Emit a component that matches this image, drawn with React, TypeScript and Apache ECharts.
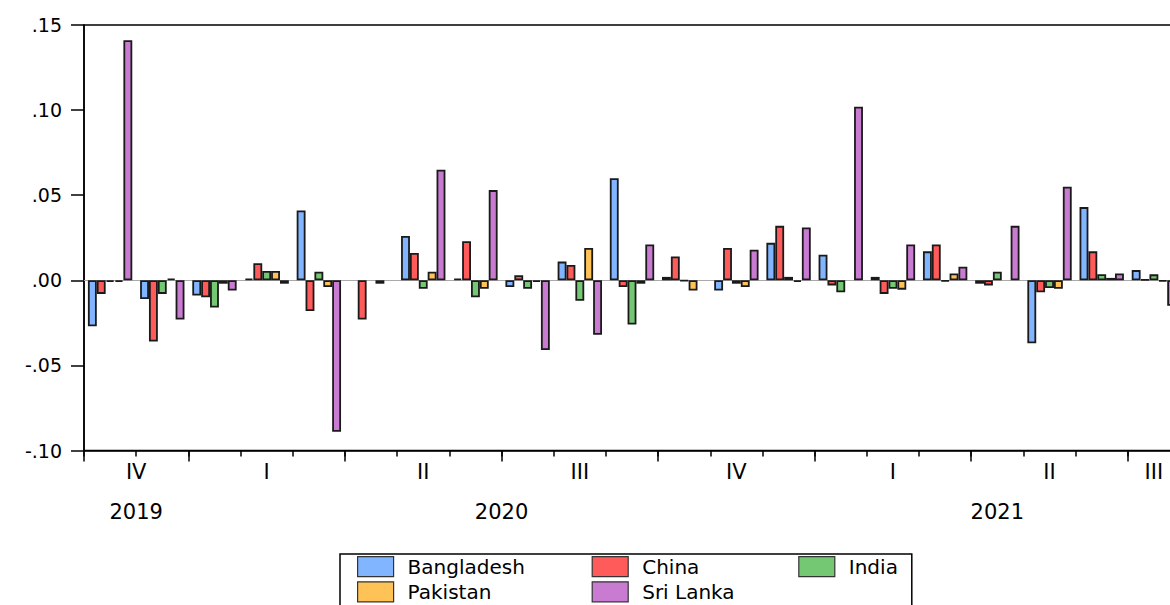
import React, { useEffect, useRef } from "react";
import * as echarts from "echarts";

// Monthly periods (Nov 2019 – Jul 2021)
const months = [
  "2019-11", "2019-12",
  "2020-01", "2020-02", "2020-03", "2020-04", "2020-05", "2020-06",
  "2020-07", "2020-08", "2020-09", "2020-10", "2020-11", "2020-12",
  "2021-01", "2021-02", "2021-03", "2021-04", "2021-05", "2021-06", "2021-07",
];

const seriesNames = ["Bangladesh", "China", "India", "Pakistan", "Sri Lanka"];

const bangladesh = [-0.027, -0.011, -0.009, 0.001, 0.041, null, 0.026, 0.001, -0.004, 0.011, 0.060, 0.002, -0.006, 0.022, 0.015, 0.002, 0.017, -0.002, -0.037, 0.043, 0.006];
const china = [-0.008, -0.036, -0.010, 0.010, -0.018, -0.023, 0.016, 0.023, 0.003, 0.009, -0.004, 0.014, 0.019, 0.032, -0.003, -0.008, 0.021, -0.003, -0.007, 0.017, 0.0004];
const india = [-0.001, -0.008, -0.016, 0.0055, 0.005, null, -0.005, -0.010, -0.005, -0.012, -0.026, -0.0004, -0.002, 0.002, -0.007, -0.005, -0.0006, 0.005, -0.0045, 0.0036, 0.0035];
const pakistan = [-0.001, 0.001, -0.002, 0.0055, -0.004, -0.002, 0.005, -0.005, -0.001, 0.019, -0.002, -0.006, -0.004, -0.001, null, -0.0055, 0.004, null, -0.005, 0.0014, -0.0007];
const sriLanka = [0.141, -0.023, -0.006, -0.002, -0.089, null, 0.065, 0.053, -0.041, -0.032, 0.021, null, 0.018, 0.031, 0.102, 0.021, 0.008, 0.032, 0.055, 0.004, -0.015];

const seriesValues = [bangladesh, china, india, pakistan, sriLanka];
const seriesColors = ["#82B5FF", "#FF5B5B", "#74C874", "#FFC257", "#C97BD1"];

const yTicks = [-0.1, -0.05, 0, 0.05, 0.1, 0.15];
const romans = ["I", "II", "III", "IV"];

const FONT = "DejaVu Sans";

function spans(keyOf: (m: string) => string) {
  const out: { key: string; start: number; end: number }[] = [];
  months.forEach((m, i) => {
    const k = keyOf(m);
    const last = out[out.length - 1];
    if (last && last.key === k) last.end = i + 1;
    else out.push({ key: k, start: i, end: i + 1 });
  });
  return out;
}

export default function App() {
  const ref = useRef<HTMLDivElement>(null);

  useEffect(() => {
    if (!ref.current) return;
    const chart = echarts.init(ref.current, undefined, { renderer: "svg" });
    const n = months.length;

    const quarterSpans = spans((m) => {
      const [y, mo] = m.split("-").map(Number);
      return `${y}-${Math.floor((mo - 1) / 3)}`;
    });
    const yearSpans = spans((m) => m.split("-")[0]);

    const qLabelMap: Record<string, string> = {};
    const qCenters = quarterSpans.map((s) => {
      const c = (s.start + s.end) / 2;
      qLabelMap[c.toFixed(3)] = romans[Number(s.key.split("-")[1])];
      return c;
    });
    const yLabelMap: Record<string, string> = {};
    const yCenters = yearSpans.map((s) => {
      const c = (s.start + s.end) / 2;
      yLabelMap[c.toFixed(3)] = s.key;
      return c;
    });
    const quarterBounds = quarterSpans.map((s) => s.start);
    const monthBounds = Array.from({ length: n + 1 }, (_, i) => i);

    const colKeys = ["c1", "c2", "c3"];
    const richBase = { fontFamily: FONT, fontSize: 20, color: "#000", lineHeight: 20, padding: [0, 0, 0, 9] };

    const valueAxisBase = {
      type: "value",
      gridIndex: 0,
      min: 0,
      max: n,
      position: "bottom",
      splitLine: { show: false },
    };

    chart.setOption({
      animation: false,
      backgroundColor: "#fff",
      grid: {
        left: 84,
        top: 25,
        width: 1096,
        height: 425.5,
        show: true,
        borderColor: "#000",
        borderWidth: 1.5,
        backgroundColor: "transparent",
        containLabel: false,
        outerBoundsMode: "none",
      },
      legend: {
        data: seriesNames,
        left: 340,
        top: 554,
        width: 600,
        orient: "horizontal",
        padding: [2, 5, 5, 17],
        itemWidth: 36,
        itemHeight: 20,
        itemGap: 4,
        icon: "rect",
        borderColor: "#000",
        borderWidth: 1.5,
        itemStyle: { borderColor: "#333", borderWidth: 1.2 },
        formatter: (name: string) => `{${colKeys[seriesNames.indexOf(name) % 3]}|${name}}`,
        textStyle: {
          fontFamily: FONT,
          fontSize: 20,
          color: "#000",
          rich: {
            c1: { ...richBase, width: 180 },
            c2: { ...richBase, width: 152 },
            c3: { ...richBase, width: 58 },
          },
        },
      },
      xAxis: [
        {
          type: "category",
          gridIndex: 0,
          data: months,
          axisLine: { show: true, onZero: true, lineStyle: { color: "#aaa", width: 1 } },
          axisTick: { show: false },
          axisLabel: { show: false },
          splitLine: { show: false },
        },
        {
          ...valueAxisBase,
          axisLine: { show: true, onZero: false, lineStyle: { color: "#000", width: 1.5 } },
          axisTick: { show: true, customValues: monthBounds, length: 6, inside: false, lineStyle: { color: "#000", width: 1.5 } },
          axisLabel: { show: false },
        },
        {
          ...valueAxisBase,
          axisLine: { show: false, onZero: false },
          axisTick: { show: true, customValues: quarterBounds, length: 11, inside: false, lineStyle: { color: "#000", width: 1.5 } },
          axisLabel: {
            show: true,
            customValues: qCenters,
            margin: 11,
            fontFamily: FONT,
            fontSize: 21,
            color: "#000",
            formatter: (v: number) => qLabelMap[v.toFixed(3)] ?? "",
          },
        },
        {
          ...valueAxisBase,
          axisLine: { show: false, onZero: false },
          axisTick: { show: false },
          axisLabel: {
            show: true,
            customValues: yCenters,
            margin: 51,
            fontFamily: FONT,
            fontSize: 21,
            color: "#000",
            formatter: (v: number) => yLabelMap[v.toFixed(3)] ?? "",
          },
        },
      ],
      yAxis: {
        type: "value",
        min: yTicks[0],
        max: yTicks[yTicks.length - 1],
        interval: 0.05,
        axisLine: { show: true, lineStyle: { color: "#000", width: 1.5 } },
        axisTick: { show: true, length: 13, inside: false, lineStyle: { color: "#000", width: 1.5 } },
        splitLine: { show: false },
        axisLabel: {
          margin: 22,
          fontFamily: FONT,
          fontSize: 19,
          color: "#000",
          formatter: (v: number) => {
            const s = Math.abs(v) < 1e-9 ? "0.00" : v.toFixed(2);
            return s.replace("0.", ".");
          },
        },
      },
      series: seriesNames.map((name, i) => ({
        name,
        type: "bar",
        xAxisIndex: 0,
        yAxisIndex: 0,
        data: seriesValues[i],
        barGap: "0%",
        barCategoryGap: "15%",
        itemStyle: { color: seriesColors[i], borderColor: "#1a1a1a", borderWidth: 1.8 },
      })),
    });

    return () => chart.dispose();
  }, []);

  return (
    <div
      ref={ref}
      style={{ position: "absolute", left: 0, top: 0, width: 1170, height: 605 }}
    />
  );
}
